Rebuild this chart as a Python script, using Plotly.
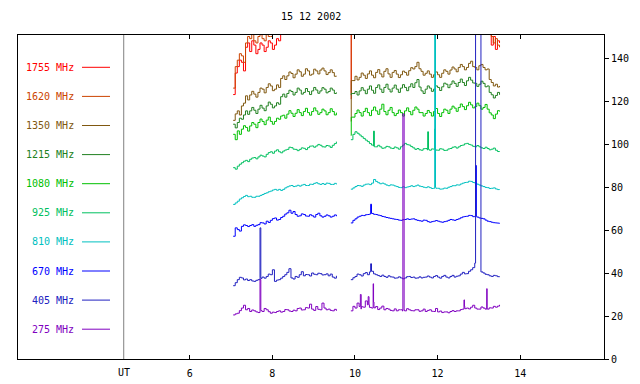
import plotly.graph_objects as go

title_text = "15 12 2002"
channels = ["1755 MHz", "1620 MHz", "1350 MHz", "1215 MHz", "1080 MHz",
            "925 MHz", "810 MHz", "670 MHz", "405 MHz", "275 MHz"]
colors = ["#FF0000", "#CC4400", "#805810", "#208020", "#00C000",
          "#00C060", "#00C0C0", "#0000FF", "#2020C0", "#8000C0"]

# UT sample times (hours) of the two observing segments, 3-minute steps
t1 = [round(7.05 + 0.05 * i, 2) for i in range(51)]   # 7.05 .. 9.55
t2 = [round(9.9 + 0.05 * i, 2) for i in range(73)]    # 9.90 .. 13.50

s1755_1 = [123, 133, 136, 139, 138, 134, 145, 147, 143, 148, 146, 142, 144, 147, 146, 143,
           145, 148, 147, 144, 146, 149, 148, 165, 165, 165, 165, 165, 165, 165, 165, 165,
           165, 165, 165, 165, 165, 165, 165, 165, 165, 165, 165, 165, 165, 165, 165, 165,
           165, 165, 165]
s1755_2 = [121, 165, 165, 165, 165, 165, 165, 165, 165, 165, 165, 165, 165, 165, 165, 165,
           165, 165, 165, 165, 165, 165, 165, 165, 165, 165, 165, 165, 165, 165, 165, 165,
           165, 165, 165, 165, 165, 165, 165, 165, 165, 165, 165, 165, 165, 165, 165, 165,
           165, 165, 165, 165, 165, 165, 165, 165, 165, 165, 165, 165, 165, 165, 165, 165,
           165, 165, 165, 165, 146, 150, 144, 148, 147]
s1620_1 = [126, 136, 139, 142, 141, 138, 147, 150, 149, 151, 148, 147, 150, 152, 149, 148,
           151, 150, 150, 153, 155, 165, 165, 165, 165, 165, 165, 165, 165, 165, 165, 165,
           165, 165, 165, 165, 165, 165, 165, 165, 165, 165, 165, 165, 165, 165, 165, 165,
           165, 165, 165]
s1620_2 = [124, 165, 165, 165, 165, 165, 165, 165, 165, 165, 165, 165, 165, 165, 165, 165,
           165, 165, 165, 165, 165, 165, 165, 165, 165, 165, 165, 165, 165, 165, 165, 165,
           165, 165, 165, 165, 165, 165, 165, 165, 165, 165, 165, 165, 165, 165, 165, 165,
           165, 165, 165, 165, 165, 165, 165, 165, 165, 165, 165, 165, 165, 165, 165, 165,
           165, 165, 165, 165, 150, 147, 149, 146, 145]
s1350_1 = [111, 114, 115.4, 113.5, 117.7, 119, 122.4, 120.5, 122.8, 124.5, 123.2, 121.8, 124,
           126, 125.5, 123.8, 126.3, 128, 127, 124.8, 125.5, 127.5, 126.3, 130.5, 131.7, 130,
           131.7, 133.5, 132.8, 130.8, 132.5, 134.5, 133.6, 131.5, 132.5, 135, 134, 132, 132.5,
           134.8, 134, 132.6, 134.4, 135.3, 134, 132.3, 133.2, 134.5, 133.2, 131.5, 131.7]
s1350_2 = [110.6, 129.5, 131.5, 129.8, 131, 133, 132, 130.5, 132.6, 134, 132, 130.8, 133.3,
           134.6, 132.6, 131.2, 133.8, 135, 132.6, 131, 133.3, 134.2, 132.5, 130.9, 132.2,
           133.9, 133.3, 132, 134.1, 135.5, 134.9, 136, 138, 135, 133.8, 132, 132.9, 134,
           132.5, 131, 132.2, 133.5, 132.2, 131, 132.9, 134.5, 133.8, 132.5, 134.4, 135.8,
           134.9, 133.6, 135.6, 137, 136, 134.5, 135.6, 137.5, 138.5, 136, 135.6, 134.5,
           136.4, 137, 135.6, 134.5, 134.9, 130, 128.6, 127, 127.8, 126.5, 127]
s1215_1 = [109.2, 107.5, 110, 112, 111.5, 113.5, 115.4, 113.8, 115.4, 117, 115.7, 114.2,
           116.2, 118, 116.7, 115.5, 117.7, 119.5, 118.5, 116.8, 117.7, 119.2, 118.5, 122,
           123.2, 121.8, 123.5, 125, 124.4, 122.8, 124, 126, 125.1, 123.2, 124, 125.8, 124.4,
           123, 124.7, 126.3, 125.1, 123.6, 124.7, 126.2, 125.5, 123.8, 124.4, 126, 125.1,
           123.5, 124]
s1215_2 = [122.9, 123.5, 124.4, 122.8, 124.7, 126.2, 125, 123.4, 125.5, 127, 125, 123.6,
           126.3, 127.5, 125.5, 124, 126.3, 127.8, 125.5, 124.2, 126, 127.4, 125.5, 124, 126,
           127.6, 126.3, 124.8, 126.6, 128, 126.3, 128.5, 130, 126.5, 124.7, 123.5, 125.5, 127,
           126, 124.5, 125.5, 127, 126.3, 124.9, 126.6, 128.3, 127.8, 126.2, 127.8, 129.3,
           128.2, 126.8, 128.6, 130.2, 128.6, 127.2, 129.4, 131, 129.7, 128.4, 128.2, 126.8,
           127.8, 129.2, 128.2, 126.6, 127, 124, 122.9, 121.4, 122.6, 124, 122.9]
s1080_1 = [104.5, 102, 106.1, 104.5, 106.9, 108.5, 107.7, 106, 108.4, 110, 109.2, 107.6, 110,
           111.6, 110.5, 109, 111.1, 112.5, 110.5, 109.2, 110.5, 112, 111.5, 113, 113.4, 112,
           113.9, 115.5, 114.3, 112.8, 114.3, 116, 114.6, 113.2, 115.1, 116.6, 114.6, 113.4,
           115.1, 116.8, 115.4, 113.8, 114.6, 116.2, 115.4, 113.6, 114.6, 116.4, 115.1, 113.5,
           114.6]
s1080_2 = [104, 112.5, 114.2, 115.8, 114.6, 113, 115.1, 116.6, 114.6, 113.2, 115.7, 117.2,
           115.4, 113.8, 116.2, 118.5, 115.1, 113.6, 115.7, 117, 114.6, 113.2, 114.2, 115.8,
           114.6, 113, 115.4, 116.8, 115.1, 113.6, 115.7, 117.2, 116.2, 114.6, 114.6, 113,
           114.2, 115.6, 114.6, 113, 115.1, 116.5, 114.2, 112.8, 114.6, 116.2, 115.7, 114.2,
           116.2, 117.6, 116.7, 115.2, 117, 118.6, 117.4, 116, 117.8, 119.4, 118.2, 116.8,
           117.4, 119, 117.8, 116.2, 117, 118.4, 116.2, 114.5, 113.5, 111.8, 113.9, 115.5, 115.1]
s925_1 = [89, 88.3, 89.7, 90.6, 91.3, 92, 92.4, 91.8, 92.9, 93.5, 93.7, 93.1, 94, 94.8, 94.4,
          94, 95.2, 96, 96.4, 95.7, 96.7, 97.3, 96.4, 95.9, 96.7, 97.2, 97.5, 98.5, 98.3, 97.6,
          97.5, 96.9, 97.5, 98.2, 98, 97.4, 98.3, 99, 99.1, 98.5, 99.1, 99.8, 99.4, 98.7, 98.6,
          99.3, 99.1, 98.4, 99.4, 100.2, 101.1]
s925_2 = [102, 104.5, 105.7, 105, 104.2, 103.4, 102.6, 101.8, 101.1, 100.2, 99.5, 99, 98.7,
          99.4, 98.7, 98, 98.2, 98.9, 98.7, 98.1, 97.9, 98.6, 98.2, 97.6, 98.7, 99.5, 100.3,
          99.7, 99.5, 98.8, 98.2, 97.5, 97.9, 97.3, 97.1, 97.8, 97.9, 97.2, 97.1, 97.7, 97.6,
          96.9, 97.1, 97.8, 97.6, 97, 97.1, 97.7, 97.9, 98.5, 98.7, 98.1, 98.7, 99.3, 99.5,
          100.1, 100.3, 99.8, 99.5, 98.9, 98.7, 99.3, 98.7, 98.2, 97.9, 98.5, 97.9, 97.3,
          97.6, 98.1, 97.1, 96.5, 96.3]
s810_1 = [71.9, 72.6, 73.4, 74.4, 75, 75.6, 76.1, 75.5, 75.7, 75.2, 75.2, 75.7, 75.7, 76.1,
          76.5, 77, 77.3, 77.8, 78.1, 78.6, 78.9, 78.5, 78.9, 78.4, 78.9, 79.6, 80.1, 80.5,
          80.7, 80.2, 80.4, 80.8, 80.4, 80.9, 81.2, 80.7, 80.7, 81.3, 81.2, 81.7, 82, 81.5,
          81.2, 81.6, 81.2, 81.8, 81.7, 81.2, 81.2, 81.7, 81.2]
s810_2 = [79, 79.6, 80.2, 80.7, 80.6, 80.3, 80.9, 81.3, 81.4, 81.1, 81.8, 83.5, 82.6, 82,
          81.5, 81.8, 81.4, 80.9, 80.6, 81, 80.9, 80.5, 80.2, 79.8, 79.7, 80.1, 79.7, 80, 80.2,
          80.6, 80.2, 80.5, 80.9, 80.4, 80.2, 79.9, 79.7, 80.1, 79.7, 79.3, 79.4, 79.8, 79.4,
          79, 79.1, 79.5, 79.4, 79.9, 80.2, 80.6, 80.6, 81, 80.9, 81.4, 81.8, 82.1, 82.2,
          82.7, 82.6, 82.1, 81.8, 81.3, 80.9, 80.5, 80.2, 79.8, 79.7, 79.3, 79.4, 79.6, 79.1,
          78.8, 78.6]
s670_1 = [57.1, 61, 60.2, 59.5, 61.7, 62.4, 62.1, 61.6, 62.1, 62.5, 61.7, 62.2, 62.5, 63.4,
          63.3, 62.8, 64.1, 63.5, 64.5, 65.3, 65.6, 64.6, 64.9, 65.8, 66.4, 67.4, 68, 69.2,
          67.8, 68.6, 67.2, 66.4, 66.6, 67.5, 67.2, 66.5, 66.4, 67.1, 66.6, 66, 67.2, 67.8,
          66.6, 66, 66.4, 67, 66.6, 66, 66.4, 67, 66.4]
s670_2 = [63.3, 64.5, 65.2, 66, 66.4, 66.8, 66.7, 67.1, 67.2, 67.4, 67.7, 67.3, 67.2, 66.9,
          66.7, 66.3, 66.1, 65.8, 65.6, 65.4, 65.2, 65, 64.9, 64.6, 64.5, 64.8, 64.9, 65.2,
          64.9, 65.1, 65.2, 64.8, 64.5, 64.3, 64.1, 64.6, 64.5, 63.9, 63.6, 63.9, 64.1, 64.4,
          64.1, 63.8, 63.6, 63.9, 64.1, 64.5, 64.9, 64.7, 64.5, 64.9, 65.2, 65.7, 66.1, 66.3,
          66.4, 66.8, 66.7, 66.2, 66.4, 66, 65.6, 65.4, 65.2, 64.6, 64.1, 63.9, 63.6, 63.4,
          63.3, 63.2, 63]
s405_1 = [34.1, 35.5, 36.9, 38, 37.7, 36.8, 37.2, 36.5, 36.9, 36.3, 36.1, 36.6, 36.9, 37.8,
          38.1, 37.6, 38.4, 39.5, 39.2, 41.5, 36.1, 36.7, 36.9, 37.6, 38.4, 39.2, 40.3, 42,
          37.7, 37.2, 38.4, 38, 39.2, 40.6, 38.7, 39.3, 39.2, 38.6, 40, 39.4, 39.2, 39.9, 39.7,
          39.1, 39.2, 39.6, 38.7, 39.5, 38.1, 37.6, 38.7]
s405_2 = [36.9, 37.8, 38.4, 39.5, 39.2, 38.6, 39.7, 40.2, 39.2, 40.5, 40.8, 39.6, 39.2, 38.8,
          38.4, 39, 38.4, 38, 38.7, 38.2, 38.1, 37.6, 37.7, 38.2, 37.7, 37.3, 37.7, 38.3, 38.4,
          37.9, 38.1, 37.6, 37.7, 38.2, 37.7, 38, 38.1, 38.6, 38.1, 37.7, 38.4, 38.8, 38.1,
          37.6, 38.4, 38.9, 38.1, 37.7, 38.4, 38.9, 38.1, 38.5, 38.7, 39.5, 40.3, 39.6, 39.7,
          40.8, 41.5, 42.5, 44.6, 200, 200, 40.5, 40, 39.4, 39.2, 38.7, 38.4, 38.9, 38.7, 38.3,
          38.1]
s275_1 = [20.5, 21, 21.3, 22.5, 23.7, 25, 22.9, 23.5, 22.1, 22.8, 22.4, 21.9, 21.6, 22.6,
          22.1, 23.5, 22.9, 22, 21.3, 21.8, 21.6, 22.1, 22.4, 21.8, 22.1, 23, 22.9, 22.3, 22.1,
          22.7, 22.4, 23.5, 23.7, 22.8, 22.9, 23.9, 23.7, 25.5, 23.2, 22.6, 24.4, 23.1, 22.9,
          26, 23.7, 22.9, 23.2, 22.6, 22.4, 23.1, 22.4]
s275_2 = [22.4, 24.5, 23.7, 26, 24.4, 23.2, 24.1, 27, 25.2, 24, 23.7, 26.5, 24.4, 23, 23.7,
          24.6, 22.9, 23.5, 23.2, 22.6, 22.4, 23.3, 22.4, 22.9, 22.9, 22.3, 22.4, 23.4, 22.9,
          22.5, 22.4, 22.9, 22.9, 22.2, 22.4, 23.2, 22.1, 22.6, 22.9, 22.2, 22.1, 23.5, 21.9,
          22.3, 21.6, 21.9, 21.9, 21.5, 22.1, 22.5, 22.1, 22.4, 22.4, 23, 23.2, 24.5, 23.7,
          23.3, 24.1, 25, 23.7, 23.2, 23.2, 24.2, 23.7, 23.2, 23.2, 23.8, 23.7, 24.5, 24.1,
          24.6, 25.2]

# short bursts / spikes between samples: (UT hour, value)
e1755 = [(9.91, 165)]
e1620 = [(9.91, 165)]
e1350 = [(9.91, 129.5)]
e1215 = [(9.91, 123.5)]
e1080 = [(9.91, 112.5)]
e925 = [(10.45, 106), (10.47, 98.7), (11.76, 105.7), (11.78, 97.5), (11.93, 107), (11.96, 97.2)]
e810 = [(11.93, 200), (11.96, 79.4)]
e670 = [(10.38, 72), (10.40, 67.7), (12.92, 90), (12.94, 66.4)]
e405 = [(7.70, 61), (7.72, 37.5), (10.38, 44.3), (10.40, 40.8), (12.92, 200)]
e275 = [(7.70, 37), (7.72, 22.5), (10.13, 30), (10.15, 24.3), (10.32, 29), (10.34, 25.2),
        (10.44, 35), (10.46, 23.8), (11.16, 114), (11.19, 22.8), (12.64, 27.5), (12.66, 23.4),
        (13.19, 32.7), (13.21, 23.2)]

seg1 = [s1755_1, s1620_1, s1350_1, s1215_1, s1080_1, s925_1, s810_1, s670_1, s405_1, s275_1]
seg2 = [s1755_2, s1620_2, s1350_2, s1215_2, s1080_2, s925_2, s810_2, s670_2, s405_2, s275_2]
extras = [e1755, e1620, e1350, e1215, e1080, e925, e810, e670, e405, e275]

xticks = [6, 8, 10, 12, 14]
yticks = [0, 20, 40, 60, 80, 100, 120, 140]
ut_start = 4.4

for name, a, b in zip(channels, seg1, seg2):
    if len(a) != len(t1) or len(b) != len(t2):
        raise ValueError(f"{name}: {len(a)} / {len(b)}")

FONT = "DejaVu Sans Mono"
fig = go.Figure()
for name, color, a, b, ex in zip(channels, colors, seg1, seg2, extras):
    p1 = sorted(list(zip(t1, a)) + [p for p in ex if p[0] < 9.7])
    p2 = sorted(list(zip(t2, b)) + [p for p in ex if p[0] > 9.7])
    xs = [p[0] for p in p1] + [None] + [p[0] for p in p2]
    ys = [p[1] for p in p1] + [None] + [p[1] for p in p2]
    fig.add_trace(go.Scatter(x=xs, y=ys, mode="lines", name=name,
                             line=dict(color=color, width=1, shape="hv"),
                             showlegend=False, hoverinfo="skip", connectgaps=False))

W, H = 640, 384
ML, MR, MT, MB = 18, 36, 35, 25
PW, PH = W - ML - MR, H - MT - MB

fig.update_layout(
    width=W, height=H,
    margin=dict(l=ML, r=MR, t=MT, b=MB, pad=0, autoexpand=False),
    paper_bgcolor="white", plot_bgcolor="white",
    font=dict(family=FONT, size=10, color="black"),
    showlegend=False,
)
fig.update_xaxes(range=[1.84, 16.03], tickvals=xticks, ticktext=[str(v) for v in xticks],
                 ticks="inside", ticklen=4, tickcolor="black", tickwidth=1,
                 ticklabelstandoff=5, automargin=False,
                 showline=True, linecolor="black", linewidth=1, mirror="ticks",
                 showgrid=False, zeroline=False, tickfont=dict(family=FONT, size=10))
fig.update_yaxes(range=[0, 150.7], side="right", tickvals=yticks, automargin=False,
                 ticks="outside", ticklen=4, tickcolor="black", tickwidth=1,
                 showline=True, linecolor="black", linewidth=1, mirror=True,
                 showgrid=False, zeroline=False, tickfont=dict(family=FONT, size=10))

def py(ypix):
    return (H - MB - ypix) / PH

def px(xpix):
    return (xpix - ML) / PW

annotations = [
    dict(text=title_text, xref="paper", yref="paper", x=0.5, y=py(17),
         xanchor="center", yanchor="middle", showarrow=False,
         font=dict(family=FONT, size=10, color="black")),
    dict(text="UT", xref="x", yref="paper", x=ut_start, y=py(372),
         xanchor="center", yanchor="middle", showarrow=False,
         font=dict(family=FONT, size=10, color="black")),
]
shapes = [dict(type="line", xref="x", yref="paper", x0=ut_start, x1=ut_start, y0=0, y1=1,
               line=dict(color="#808080", width=1))]
for i, (name, color) in enumerate(zip(channels, colors)):
    ypix = 67.3 + 29.1 * i
    annotations.append(dict(text=name, xref="paper", yref="paper", x=px(75.5), y=py(ypix),
                            xanchor="right", yanchor="middle", showarrow=False,
                            font=dict(family=FONT, size=10, color=color)))
    shapes.append(dict(type="line", xref="paper", yref="paper", x0=px(82), x1=px(110),
                       y0=py(ypix), y1=py(ypix), line=dict(color=color, width=1)))
fig.update_layout(annotations=annotations, shapes=shapes)

fig.write_html("out.html", config={"displayModeBar": False},
               post_script="document.body.style.margin='0';document.body.style.overflow='hidden';")
